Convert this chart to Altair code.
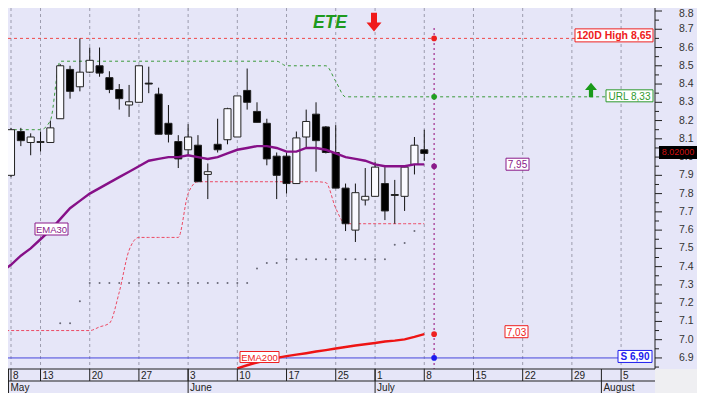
import altair as alt
import pandas as pd

FONT = "Liberation Sans"

# ---------------- data ----------------
trade_days = ["05-07", "05-08", "05-09", "05-10", "05-13", "05-14", "05-15", "05-16", "05-17",
              "05-20", "05-21", "05-22", "05-23", "05-24", "05-27", "05-28", "05-29", "05-30",
              "05-31", "06-03", "06-04", "06-05", "06-06", "06-07", "06-10", "06-11", "06-12",
              "06-13", "06-14", "06-17", "06-18", "06-19", "06-20", "06-21", "06-25", "06-26",
              "06-27", "06-28", "07-01", "07-02", "07-03", "07-04", "07-05", "07-08"]
open_ = [7.56, 7.90, 8.14, 8.08, 8.08, 8.08, 8.21, 8.48, 8.385, 8.465, 8.50, 8.435, 8.37, 8.285,
         8.30, 8.405, 8.345, 8.185, 8.085, 8.04, 8.065, 7.905, 8.07, 8.095, 8.11, 8.365, 8.25,
         8.185, 8.005, 8.005, 7.855, 8.11, 8.235, 8.165, 8.025, 7.83, 7.60, 7.765, 7.785, 7.855,
         7.795, 7.785, 7.96, 8.04]
high = [7.83, 8.16, 8.16, 8.13, 8.14, 8.20, 8.51, 8.50, 8.65, 8.60, 8.60, 8.47, 8.40, 8.395,
        8.50, 8.495, 8.38, 8.285, 8.12, 8.18, 8.12, 7.965, 8.21, 8.27, 8.335, 8.485, 8.30,
        8.21, 8.025, 8.025, 8.14, 8.26, 8.30, 8.17, 8.175, 7.855, 7.855, 7.94, 7.975, 7.945,
        7.875, 7.945, 8.11, 8.15]
low = [7.54, 7.89, 8.06, 8.01, 8.03, 8.08, 8.21, 8.32, 8.36, 8.46, 8.44, 8.35, 8.26, 8.22,
       8.30, 8.35, 8.125, 8.08, 7.94, 8.01, 7.865, 7.77, 8.025, 8.07, 8.11, 8.26, 8.19,
       7.955, 7.77, 7.80, 7.855, 8.055, 7.92, 8.02, 7.83, 7.595, 7.535, 7.735, 7.785, 7.655,
       7.635, 7.705, 7.905, 7.98]
close = [7.81, 8.15, 8.09, 8.11, 8.085, 8.16, 8.50, 8.36, 8.465, 8.53, 8.46, 8.37, 8.32, 8.303,
         8.50, 8.40, 8.125, 8.125, 7.99, 8.11, 7.865, 7.92, 8.04, 8.265, 8.335, 8.30, 8.19,
         7.99, 7.90, 7.855, 8.105, 8.195, 8.09, 8.025, 7.83, 7.635, 7.805, 7.785, 7.945, 7.705,
         7.79, 7.945, 8.065, 8.02]
ema30 = [7.37, 7.41, 7.46, 7.50, 7.55, 7.60, 7.66, 7.72, 7.76, 7.80, 7.83, 7.86, 7.89, 7.92,
         7.95, 7.98, 7.99, 8.00, 8.00, 8.01, 8.00, 7.99, 8.00, 8.02, 8.04, 8.05, 8.06, 8.06,
         8.05, 8.03, 8.03, 8.05, 8.05, 8.04, 8.02, 8.00, 7.99, 7.98, 7.96, 7.95, 7.95, 7.95,
         7.96, 7.96]
ema200_first = 24
ema200 = [6.843, 6.86, 6.875, 6.888, 6.90, 6.91, 6.918, 6.926, 6.935, 6.943, 6.952, 6.96,
          6.968, 6.975, 6.982, 6.99, 6.995, 7.002, 7.015, 7.03]
url_line = [7.81, 8.15, 8.15, 8.15, 8.15, 8.20, 8.525, 8.525, 8.525, 8.525, 8.525, 8.525,
            8.525, 8.525, 8.525, 8.525, 8.525, 8.525, 8.525, 8.525, 8.525, 8.525, 8.525,
            8.525, 8.525, 8.525, 8.525, 8.525, 8.525, 8.50, 8.50, 8.50, 8.50, 8.50, 8.415,
            8.33, 8.33, 8.33, 8.33, 8.33, 8.33, 8.33, 8.33, 8.33, 8.33]
support_line = [7.05, 7.05, 7.05, 7.05, 7.05, 7.05, 7.05, 7.05, 7.05, 7.05, 7.07, 7.09, 7.26,
                7.49, 7.56, 7.56, 7.56, 7.56, 7.56, 7.80, 7.865, 7.865, 7.865, 7.865, 7.865,
                7.865, 7.865, 7.865, 7.865, 7.865, 7.865, 7.865, 7.865, 7.86, 7.72, 7.635,
                7.635, 7.635, 7.635, 7.635, 7.635, 7.635, 7.635, 7.635]
dots_first = 6
dots = [7.09, 7.09, 7.21, 7.31, 7.31, 7.31, 7.31, 7.31, 7.31, 7.31, 7.31, 7.31, 7.31, 7.31,
        7.31, 7.31, 7.31, 7.31, 7.31, 7.31, 7.39, 7.42, 7.42, 7.44, 7.44, 7.44, 7.44, 7.44,
        7.44, 7.44, 7.44, 7.44, 7.44, 7.44, 7.52, 7.53, 7.595]

high120 = 8.65
url_level = 8.33
ema30_level = 7.95
ema200_level = 7.03
support_level = 6.90
marker_day = 44

week_ticks = [1, 4, 9, 14, 19, 24, 29, 34, 38, 43, 48, 53, 58, 63]
week_labels = ["8", "13", "20", "27", "3", "10", "17", "25", "1", "8", "15", "22", "29", "5"]
month_ticks = [0.75, 19, 38, 61]
month_labels = ["May", "June", "July", "August"]
y_ticks = [6.9, 7.0, 7.1, 7.2, 7.3, 7.4, 7.5, 7.6, 7.7, 7.8, 7.9, 8.0, 8.1, 8.2, 8.3, 8.4,
           8.5, 8.6, 8.7, 8.8]
y_minor = [6.85, 6.95, 7.05, 7.15, 7.25, 7.35, 7.45, 7.55, 7.65, 7.75, 7.85, 7.95, 8.05,
           8.15, 8.25, 8.35, 8.45, 8.55, 8.65, 8.75]

# ---------------- geometry / style ----------------
W, H = 689, 385
PX_DAY = 9.84
X_ORIGIN = -6.84
PX_UNIT = 182.6
PLOT_R = 647
PLOT_B = 361
BG = "#e6e6f8"


def day_at(p):
    return (p - X_ORIGIN) / PX_DAY


def val_at(p):
    return 8.8 - (p - 3) / PX_UNIT


xs = alt.Scale(domain=[day_at(0), day_at(W)], nice=False, zero=False)
ys = alt.Scale(domain=[val_at(H), val_at(0)], nice=False, zero=False)


def X(f):
    return alt.X(f, type="quantitative", scale=xs, axis=None)


def Y(f):
    return alt.Y(f, type="quantitative", scale=ys, axis=None)


one = pd.DataFrame({"a": [0]})
layers = []

# gridlines
grid = pd.DataFrame({"d": [d for d in week_ticks if d < day_at(PLOT_R)]})
layers.append(alt.Chart(grid).mark_rule(color="#9c9cae", strokeDash=[3, 3], strokeWidth=1).encode(
    x=X("d"), y=alt.value(0), y2=alt.value(PLOT_B)))

# bottom-right corner
layers.append(alt.Chart(one).mark_rect(color="#efeff2").encode(
    x=alt.value(PLOT_R), x2=alt.value(W), y=alt.value(PLOT_B), y2=alt.value(H)))

# horizontal level lines
layers.append(alt.Chart(pd.DataFrame({"v": [high120]})).mark_rule(
    color="#f04848", strokeDash=[3, 3], strokeWidth=1).encode(
    y=Y("v"), x=alt.value(0), x2=alt.value(567)))
layers.append(alt.Chart(pd.DataFrame({"v": [support_level]})).mark_rule(
    color="#4646dc", strokeWidth=1).encode(
    y=Y("v"), x=alt.value(0), x2=alt.value(610)))
layers.append(alt.Chart(pd.DataFrame({"d": [marker_day], "v": [url_level]})).mark_rule(
    color="#3a9a3a", strokeDash=[3, 3], strokeWidth=1).encode(
    y=Y("v"), x=X("d"), x2=alt.value(598)))

# support (lower) dashed line
sup = pd.DataFrame({"d": list(range(len(support_line))), "v": support_line})
layers.append(alt.Chart(sup).mark_line(color="#ec4a64", strokeDash=[3, 2], strokeWidth=1,
                                       interpolate="monotone").encode(x=X("d"), y=Y("v")))
# URL (upper) dashed line
url = pd.DataFrame({"d": list(range(len(url_line))), "v": url_line})
layers.append(alt.Chart(url).mark_line(color="#3a9a3a", strokeDash=[3, 3], strokeWidth=1,
                                       interpolate="monotone").encode(x=X("d"), y=Y("v")))
# dots
dd = pd.DataFrame({"d": list(range(dots_first, dots_first + len(dots))), "v": dots})
layers.append(alt.Chart(dd).mark_circle(color="#6a6a78", size=4, opacity=1).encode(
    x=X("d"), y=Y("v")))

# candles
cd = pd.DataFrame({"d": list(range(len(open_))), "o": open_, "h": high, "l": low, "c": close})
layers.append(alt.Chart(cd).mark_rule(color="#111111", strokeWidth=1).encode(
    x=X("d"), y=Y("l"), y2=alt.Y2("h")))
layers.append(alt.Chart(cd).transform_calculate(
    x1="datum.d - 0.36", x2="datum.d + 0.36").mark_rect(stroke="#222222", strokeWidth=1).encode(
    x=X("x1"), x2=alt.X2("x2"), y=Y("o"), y2=alt.Y2("c"),
    fill=alt.condition("datum.c >= datum.o", alt.value("#fafaff"), alt.value("#000000"))))

# EMA lines
e30 = pd.DataFrame({"d": list(range(len(ema30))), "v": ema30})
layers.append(alt.Chart(e30).mark_line(color="#861088", strokeWidth=2.4).encode(
    x=X("d"), y=Y("v")))
e200 = pd.DataFrame({"d": list(range(ema200_first, ema200_first + len(ema200))), "v": ema200})
layers.append(alt.Chart(e200).mark_line(color="#ee1414", strokeWidth=2.4).encode(
    x=X("d"), y=Y("v")))

# vertical marker line & markers
layers.append(alt.Chart(pd.DataFrame({"d": [marker_day], "t": [8.707], "b": [val_at(PLOT_B)]})).mark_rule(
    color="#a02a8c", strokeDash=[2, 3], strokeWidth=1.2).encode(x=X("d"), y=Y("t"), y2=alt.Y2("b")))
mk = pd.DataFrame({"d": [marker_day] * 5,
                   "v": [high120, url_level, ema30_level, ema200_level, support_level],
                   "k": ["a", "b", "c", "d", "e"]})
layers.append(alt.Chart(mk).mark_circle(size=32, opacity=1).encode(
    x=X("d"), y=Y("v"),
    color=alt.Color("k:N", scale=alt.Scale(domain=["a", "b", "c", "d", "e"],
                                           range=["#ee2020", "#22a022", "#8a1a8a", "#ee2020", "#1c1cee"]),
                    legend=None)))


def fmt(v):
    return f"{v:.2f}".replace(".", ",")


def box(text, x1, x2, yc, color, bold=False, size=10, h=12, tcolor=None):
    df = pd.DataFrame({"t": [text], "y1": [yc + h / 2 / PX_UNIT], "y2": [yc - h / 2 / PX_UNIT], "yc": [yc]})
    r = alt.Chart(df).mark_rect(fill="white", stroke=color, strokeWidth=1).encode(
        x=alt.value(x1), x2=alt.value(x2), y=Y("y1"), y2=alt.Y2("y2"))
    t = alt.Chart(df).mark_text(font=FONT, fontSize=size, fontWeight="bold" if bold else "normal",
                                color=tcolor or color, align="center", baseline="middle", dy=1).encode(
        x=alt.value((x1 + x2) / 2), y=Y("yc"), text="t:N")
    return [r, t]


layers += box(f"120D High {fmt(high120)}", 567, 645, high120 + 3 / PX_UNIT, "#ee2020", bold=True, size=10.5, h=13)
layers += box(f"URL {fmt(url_level)}", 598, 645, url_level + 1 / PX_UNIT, "#2e9a2e", size=10, h=12)
layers += box(fmt(ema30_level), 498, 521, ema30_level + 2 / PX_UNIT, "#8a1a8a", size=10, h=12)
layers += box(fmt(ema200_level), 497, 520, ema200_level + 2.5 / PX_UNIT, "#ee2020", size=10, h=12)
layers += box(f"S {fmt(support_level)}", 610, 644, support_level + 1.5 / PX_UNIT, "#1c1cee", bold=True, size=10, h=12)
layers += box("EMA30", 27, 60, val_at(221), "#8a1a8a", size=9.5, h=12)
layers += box("EMA200", 232, 271, val_at(349), "#ee2020", size=9.5, h=11)

# title & arrows
layers.append(alt.Chart(pd.DataFrame({"t": ["ETE"]})).mark_text(
    font=FONT, fontSize=17.5, fontWeight="bold", fontStyle="italic", color="#1e9a1e",
    align="center", baseline="middle").encode(x=alt.value(322), y=alt.value(15), text="t:N"))
down_arrow = "M -0.4 -1.25 L 0.4 -1.25 L 0.4 0.05 L 1 0.05 L 0 1.25 L -1 0.05 L -0.4 0.05 Z"
up_arrow = "M -0.35 1.2 L 0.35 1.2 L 0.35 0 L 1 0 L 0 -1.2 L -1 0 L -0.35 0 Z"
layers.append(alt.Chart(one).mark_point(shape=down_arrow, filled=True, color="#f01a1a", size=225,
                                        opacity=1).encode(x=alt.value(366), y=alt.value(14)))
layers.append(alt.Chart(one).mark_point(shape=up_arrow, filled=True, color="#1a9a1a", size=144,
                                        opacity=1).encode(x=alt.value(583), y=alt.value(82)))

# x-axis band
for yy in (PLOT_B, PLOT_B + 12):
    layers.append(alt.Chart(one).mark_rule(color="#202020", strokeWidth=1).encode(
        x=alt.value(0), x2=alt.value(PLOT_R), y=alt.value(yy)))
wk = pd.DataFrame({"d": week_ticks, "t": week_labels})
layers.append(alt.Chart(wk).mark_rule(color="#202020", strokeWidth=1).encode(
    x=X("d"), y=alt.value(PLOT_B), y2=alt.value(PLOT_B + 12)))
layers.append(alt.Chart(wk).mark_text(font=FONT, fontSize=10, color="#222222", align="left",
                                      baseline="middle", dx=2).encode(
    x=X("d"), y=alt.value(PLOT_B + 6.5), text="t:N"))
mo = pd.DataFrame({"d": month_ticks, "t": month_labels})
layers.append(alt.Chart(mo).mark_rule(color="#202020", strokeWidth=1).encode(
    x=X("d"), y=alt.value(PLOT_B), y2=alt.value(H)))
layers.append(alt.Chart(mo).mark_text(font=FONT, fontSize=10, color="#222222", align="left",
                                      baseline="middle", dx=2).encode(
    x=X("d"), y=alt.value(PLOT_B + 19), text="t:N"))

# y axis
layers.append(alt.Chart(one).mark_rule(color="#202020", strokeWidth=1).encode(
    x=alt.value(PLOT_R), y=alt.value(0), y2=alt.value(PLOT_B)))
yt = pd.DataFrame({"v": y_ticks, "t": [f"{v:.1f}" for v in y_ticks],
                   "top": [1 if v >= 8.75 else 0 for v in y_ticks]})
layers.append(alt.Chart(yt).mark_rule(color="#202020", strokeWidth=1).encode(
    y=Y("v"), x=alt.value(PLOT_R), x2=alt.value(PLOT_R + 7)))
layers.append(alt.Chart(pd.DataFrame({"v": y_minor})).mark_rule(color="#202020", strokeWidth=1).encode(
    y=Y("v"), x=alt.value(PLOT_R), x2=alt.value(PLOT_R + 4)))
layers.append(alt.Chart(yt).transform_filter("datum.top == 0").mark_text(
    font=FONT, fontSize=10.5, color="#333333", align="left", baseline="middle").encode(
    y=Y("v"), x=alt.value(671), text="t:N"))
layers.append(alt.Chart(yt).transform_filter("datum.top == 1").mark_text(
    font=FONT, fontSize=10.5, color="#333333", align="left", baseline="top", dy=-2).encode(
    y=Y("v"), x=alt.value(671), text="t:N"))

# last price box
lp = pd.DataFrame({"t": [f"{close[-1]:.5f}"], "y1": [close[-1] + 7.5 / PX_UNIT],
                   "y2": [close[-1] - 5.5 / PX_UNIT], "yc": [close[-1] + 1 / PX_UNIT]})
layers.append(alt.Chart(lp).mark_rect(color="#000000").encode(
    x=alt.value(651), x2=alt.value(689), y=Y("y1"), y2=alt.Y2("y2")))
layers.append(alt.Chart(lp).mark_text(font=FONT, fontSize=9, color="#d01010", align="center",
                                      baseline="middle").encode(
    x=alt.value(670), y=Y("yc"), text="t:N"))

chart = alt.layer(*layers).properties(
    width=W, height=H, padding=0, autosize=alt.AutoSizeParams(type="none"), background=BG
).configure_view(stroke=None)

chart.save("out.html", embed_options={"renderer": "svg", "actions": False})
